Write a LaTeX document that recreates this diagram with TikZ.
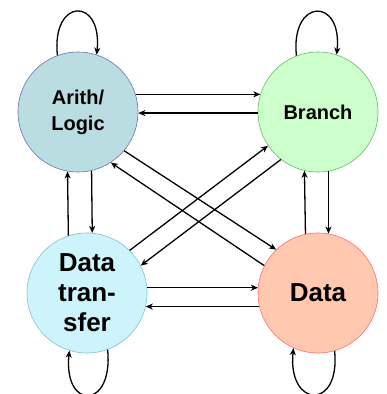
\documentclass[tikz,border=0pt]{standalone}
\usepackage{fontspec}
\setmainfont{Liberation Sans}
\usetikzlibrary{arrows.meta}

\definecolor{alfill}{HTML}{BADDE2}
\definecolor{aldraw}{HTML}{7070B0}
\definecolor{brfill}{HTML}{CCFFCC}
\definecolor{brdraw}{HTML}{66BB66}
\definecolor{dtfill}{HTML}{CCF4FA}
\definecolor{dtdraw}{HTML}{80C0D0}
\definecolor{dafill}{HTML}{FFC8AF}
\definecolor{dadraw}{HTML}{FF6F6F}

\begin{document}
\begin{tikzpicture}[x=1pt,y=-1pt,>={Stealth[length=7pt,width=6pt,inset=2pt]}]
  \tikzstyle{state}=[circle,draw,line width=0.6pt,minimum size=120pt,inner sep=0pt,align=center,font=\bfseries]
  \tikzstyle{edge}=[->,line width=1.3pt]
  \useasboundingbox (0,0) rectangle (387,394);
  \node[state,fill=alfill,draw=aldraw,font=\bfseries\fontsize{20}{26}\selectfont] (al) at (78,112) {Arith/\\Logic};
  \node[state,fill=brfill,draw=brdraw,font=\bfseries\fontsize{20}{26}\selectfont] (br) at (318,112) {Branch};
  \node[state,fill=dtfill,draw=dtdraw,font=\bfseries\fontsize{26}{30}\selectfont] (dt) at (87,293) {Data\\tran-\\sfer};
  \node[state,fill=dafill,draw=dadraw,font=\bfseries\fontsize{26}{30}\selectfont] (da) at (318,293) {Data};
  % horizontal pairs
  \draw[edge] (al.17) -- (br.163);
  \draw[edge] (br.181) -- (al.-1);
  \draw[edge] (dt.5) -- (da.175);
  \draw[edge] (da.193) -- (dt.-13);
  % vertical pairs
  \draw[edge] (dt.108) -- (al.260);
  \draw[edge] (al.283) -- (dt.85);
  \draw[edge] (da.102) -- (br.257);
  \draw[edge] (br.280) -- (da.80);
  % diagonals
  \draw[edge] (al.-40) -- (da.134);
  \draw[edge] (da.153) -- (al.303);
  \draw[edge] (dt.45) -- (br.214);
  \draw[edge] (br.232) -- (dt.27);
  % self loops
  \draw[edge] (al.110) .. controls +(-6,-58) and +(6,-58) .. (al.72);
  \draw[edge] (br.111) .. controls +(-6,-58) and +(6,-58) .. (br.72);
  \draw[edge] (dt.290) .. controls +(6,60) and +(-6,60) .. (dt.253);
  \draw[edge] (da.286) .. controls +(6,60) and +(-6,60) .. (da.246);
\end{tikzpicture}
\end{document}
